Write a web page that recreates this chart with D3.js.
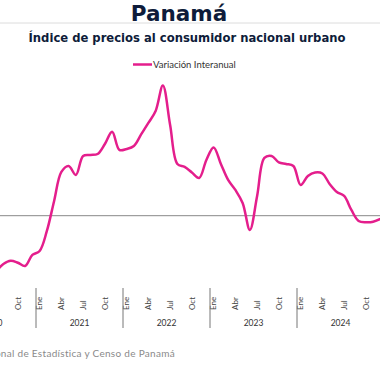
<!DOCTYPE html>
<html>
<head>
<meta charset="utf-8">
<script src="https://cdn.jsdelivr.net/npm/d3@7"></script>
<style>
  body { margin: 0; background: #fff; }
  svg { display: block; font-family: "DejaVu Sans", sans-serif; }
</style>
</head>
<body>
<svg id="chart" width="380" height="375"></svg>
<script>
// data
const years = [2020, 2021, 2022, 2023, 2024];
const monthTicks = ["Ene", "Abr", "Jul", "Oct"];
const tickMonths = [0, 3, 6, 9];
const seriesName = "Variación Interanual";
// variación interanual (%) por mes, Ene 2020 - Dic 2024
const values2020 = [0.2, 0.0, -0.5, -1.4, -2.0, -2.3, -2.2, -1.93, -1.8, -1.88, -2.01, -1.57];
const values2021 = [-1.41, -0.61, 0.59, 1.75, 1.99, 1.63, 2.39, 2.43, 2.47, 2.87, 3.36, 2.63];
const values2022 = [2.67, 2.79, 3.25, 3.71, 4.19, 5.21, 3.63, 2.07, 1.95, 1.73, 1.51, 2.23];
const values2023 = [2.73, 2.07, 1.43, 1.03, 0.51, -0.57, 0.79, 2.31, 2.39, 2.13, 2.07, 1.99];
const values2024 = [1.23, 1.59, 1.73, 1.69, 1.27, 0.95, 0.79, 0.23, -0.21, -0.26, -0.24, -0.13];

const values = [].concat(values2020, values2021, values2022, values2023, values2024);
const months = values.map((v, i) => i);

const svg = d3.select("#chart");
const W = 380;

// titles
svg.append("text")
  .attr("x", 179).attr("y", 21)
  .attr("text-anchor", "middle")
  .attr("font-size", 21.5).attr("font-weight", "bold")
  .attr("fill", "#0e1c3a")
  .text("Panamá");

svg.append("line")
  .attr("x1", 0).attr("x2", W)
  .attr("y1", 23).attr("y2", 23)
  .attr("stroke", "#dcdcdc");

svg.append("text")
  .attr("x", 187).attr("y", 41.5)
  .attr("text-anchor", "middle")
  .attr("font-size", 11.6).attr("font-weight", "bold")
  .attr("fill", "#0e1c3a")
  .text("Índice de precios al consumidor nacional urbano");

// legend
const legend = svg.append("g");
legend.append("line")
  .attr("x1", 133).attr("x2", 152)
  .attr("y1", 64.5).attr("y2", 64.5)
  .attr("stroke", "#e41e8c").attr("stroke-width", 2.5);
legend.append("text")
  .attr("x", 153).attr("y", 67.5)
  .attr("font-family", "Lato, sans-serif")
  .attr("font-size", 9.5).attr("fill", "#333")
  .text(seriesName);

// scales
const x = d3.scaleBand()
  .domain(months)
  .range([-51, -51 + months.length * 7.25]);

const y = d3.scaleLinear()
  .domain([-2.5, 5.5])
  .range([278.2, 78.2]);

const cx = i => x(i) + x.bandwidth() / 2;

// zero line
svg.append("line")
  .attr("x1", x.range()[0]).attr("x2", x.range()[1])
  .attr("y1", y(0)).attr("y2", y(0))
  .attr("stroke", "#888").attr("stroke-width", 1);

// series line
const line = d3.line()
  .x((d, i) => cx(i))
  .y(d => y(d))
  .curve(d3.curveCatmullRom.alpha(0.5));

svg.append("path")
  .datum(values)
  .attr("fill", "none")
  .attr("stroke", "#e41e8c")
  .attr("stroke-width", 2.5)
  .attr("stroke-linejoin", "round")
  .attr("d", line);

// x axis: month ticks
const axis = svg.append("g").attr("font-family", "Lato, sans-serif");

const ticks = [];
years.forEach((yr, yi) => {
  tickMonths.forEach((m, mi) => ticks.push({ i: yi * 12 + m, label: monthTicks[mi] }));
});

axis.selectAll(".mtick")
  .data(ticks)
  .join("text")
    .attr("class", "mtick")
    .attr("transform", d => `translate(${cx(d.i)},310) rotate(-90)`)
    .attr("dy", "0.35em")
    .attr("text-anchor", "start")
    .attr("font-size", 8)
    .attr("fill", "#444")
    .text(d => d.label);

// year separators
axis.selectAll(".ysep")
  .data(years.concat([years[years.length - 1] + 1]))
  .join("line")
    .attr("class", "ysep")
    .attr("x1", (d, k) => x(0) + k * 12 * x.bandwidth())
    .attr("x2", (d, k) => x(0) + k * 12 * x.bandwidth())
    .attr("y1", 288).attr("y2", 328)
    .attr("stroke", "#777");

// year labels
axis.selectAll(".ylab")
  .data(years)
  .join("text")
    .attr("class", "ylab")
    .attr("x", (d, k) => x(k * 12) + 6 * x.bandwidth())
    .attr("y", 326)
    .attr("text-anchor", "middle")
    .attr("font-size", 8.5)
    .attr("fill", "#333")
    .text(d => d);

// source
svg.append("text")
  .attr("x", 175).attr("y", 357)
  .attr("text-anchor", "end")
  .attr("font-family", "Lato, sans-serif")
  .attr("font-size", 10)
  .attr("letter-spacing", 0.3)
  .attr("fill", "#8a8a8a")
  .text("Fuente: Instituto Nacional de Estadística y Censo de Panamá");
</script>
</body>
</html>
